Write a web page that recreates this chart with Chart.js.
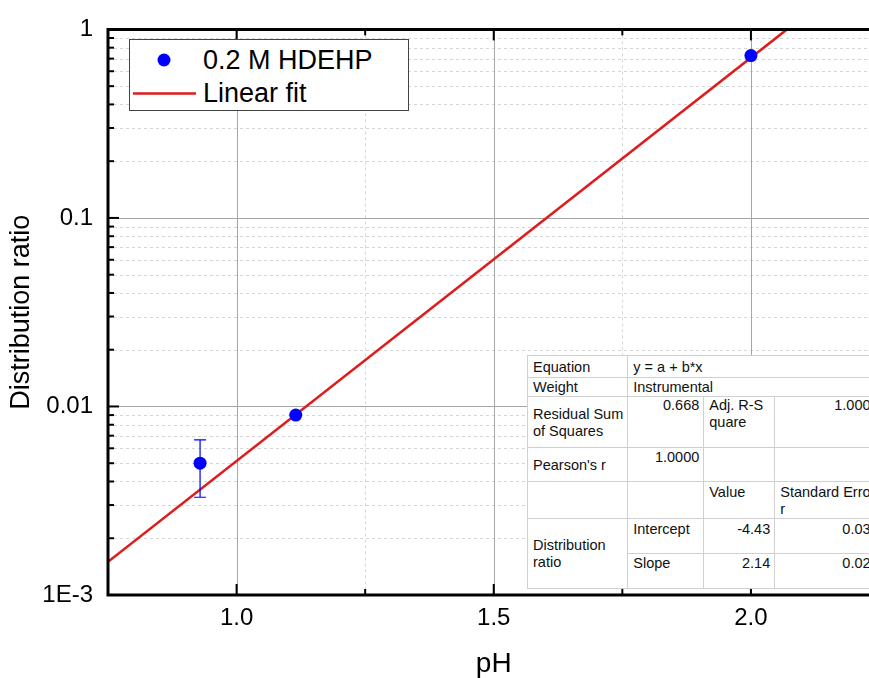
<!DOCTYPE html>
<html>
<head>
<meta charset="utf-8">
<script src="https://cdn.jsdelivr.net/npm/chart.js@4.4.1/dist/chart.umd.min.js"></script>
<style>
  html, body { margin:0; padding:0; background:#fff; overflow:hidden; width:869px; height:678px; }
  #wrap { position:relative; width:890px; height:682px; font-family:"Liberation Sans", Arial, sans-serif; }
  #c { position:absolute; left:0; top:0; }
  #legend { position:absolute; left:129px; top:39px; width:278px; height:70px; border:1px solid #444; background:#fff; }
  .lrow { position:absolute; left:0; height:32px; width:278px; font-size:27px; line-height:32px; color:#000; }
  .lrow span.t { position:absolute; left:73px; top:0; white-space:nowrap; }
  #tbl { position:absolute; left:527px; top:355px; border-collapse:collapse; table-layout:fixed; background:#fff;
         font-size:14.5px; color:#111; border:1px solid #888; }
  #tbl td { border:1px solid #d0d0d0; padding:1px 4px 0 5px; vertical-align:top; line-height:17px; overflow:hidden; white-space:nowrap; }
  #tbl td.mid { vertical-align:middle; }
  #tbl td.r { text-align:right; }
</style>
</head>
<body>
<div id="wrap">
  <canvas id="c" width="890" height="682"></canvas>
  <div id="legend"></div>
  <table id="tbl">
    <colgroup><col style="width:100px"><col style="width:76px"><col style="width:71px"><col style="width:98px"></colgroup>
    <tr style="height:22px"><td class="mid">Equation</td><td colspan="3" class="mid">y = a + b*x</td></tr>
    <tr style="height:19px"><td class="mid">Weight</td><td colspan="3" class="mid">Instrumental</td></tr>
    <tr style="height:51px"><td class="mid">Residual Sum<br>of Squares</td><td class="r" style="padding-top:0">0.668</td><td style="padding-top:0">Adj. R-S<br>quare</td><td class="r" style="padding-top:0">1.000</td></tr>
    <tr style="height:34px"><td class="mid">Pearson's r</td><td class="r" style="padding-top:1px">1.0000</td><td></td><td></td></tr>
    <tr style="height:36px"><td></td><td></td><td style="padding-top:2px">Value</td><td style="padding-top:2px">Standard Erro<br>r</td></tr>
    <tr style="height:35px"><td class="mid" rowspan="2">Distribution<br>ratio</td><td style="padding-top:2px">Intercept</td><td class="r" style="padding-top:2px">-4.43</td><td class="r" style="padding-top:2px">0.03</td></tr>
    <tr style="height:35px"><td>Slope</td><td class="r">2.14</td><td class="r">0.02</td></tr>
  </table>
</div>
<script>
// ---- data ----
const seriesLabel = '0.2 M HDEHP';
const pH = [0.929, 1.115, 2.0];
const distRatio = [0.0050, 0.0090, 0.726];
const errLow = [0.0033, null, null];
const errHigh = [0.00665, null, null];

const fitLabel = 'Linear fit';
const fitX = [0.75, 2.07];
const fitY = [0.0015, 1.0];

const xTickValues = [1.0, 1.5, 2.0];
const xMinorValues = [1.25, 1.75];
const yTickValues = [0.001, 0.01, 0.1, 1];
const yTickLabels = ['1E-3', '0.01', '0.1', '1'];
const xTitle = 'pH';
const yTitle = 'Distribution ratio';

const FONT = '"Liberation Sans", Arial, sans-serif';
const BLUE = '#0000ff';
const RED = '#e01b1b';

function yMinorValues() {
  const out = [];
  for (let e = -3; e < 0; e++) for (let k = 2; k <= 9; k++) out.push(k * Math.pow(10, e));
  return out;
}

const gridPlugin = {
  id: 'gridAndFrame',
  beforeDatasetsDraw(chart) {
    const {ctx, chartArea: a, scales: {x, y}} = chart;
    ctx.save();
    ctx.beginPath(); ctx.rect(a.left, a.top, a.right - a.left, a.bottom - a.top); ctx.clip();
    ctx.lineWidth = 1;
    ctx.strokeStyle = '#d6d6d6'; ctx.setLineDash([3, 3]);
    yMinorValues().forEach(v => { const py = Math.round(y.getPixelForValue(v)) + 0.5;
      ctx.beginPath(); ctx.moveTo(a.left, py); ctx.lineTo(a.right, py); ctx.stroke(); });
    xMinorValues.forEach(v => { const px = Math.round(x.getPixelForValue(v)) + 0.5;
      ctx.beginPath(); ctx.moveTo(px, a.top); ctx.lineTo(px, a.bottom); ctx.stroke(); });
    ctx.setLineDash([]); ctx.strokeStyle = '#a6a6a6';
    yTickValues.slice(1, -1).forEach(v => { const py = Math.round(y.getPixelForValue(v)) + 0.5;
      ctx.beginPath(); ctx.moveTo(a.left, py); ctx.lineTo(a.right, py); ctx.stroke(); });
    xTickValues.forEach(v => { const px = Math.round(x.getPixelForValue(v)) + 0.5;
      ctx.beginPath(); ctx.moveTo(px, a.top); ctx.lineTo(px, a.bottom); ctx.stroke(); });
    ctx.restore();
  },
  afterDatasetsDraw(chart) {
    const {ctx, chartArea: a, scales: {x, y}} = chart;
    ctx.save();
    const meta = chart.getDatasetMeta(0);
    ctx.strokeStyle = BLUE; ctx.lineWidth = 1.2;
    meta.data.forEach((pt, i) => {
      if (errLow[i] == null) return;
      const px = pt.x, y1 = y.getPixelForValue(errLow[i]), y2 = y.getPixelForValue(errHigh[i]);
      ctx.beginPath();
      ctx.moveTo(px, y1); ctx.lineTo(px, y2);
      ctx.moveTo(px - 6, y1); ctx.lineTo(px + 6, y1);
      ctx.moveTo(px - 6, y2); ctx.lineTo(px + 6, y2);
      ctx.stroke();
    });
    ctx.strokeStyle = '#000'; ctx.lineWidth = 3; ctx.lineCap = 'square';
    ctx.beginPath();
    ctx.moveTo(a.right, a.top); ctx.lineTo(a.left, a.top); ctx.lineTo(a.left, a.bottom); ctx.lineTo(a.right, a.bottom);
    ctx.stroke();
    ctx.lineCap = 'butt'; ctx.lineWidth = 2;
    const tick = (x1, y1, x2, y2) => { ctx.beginPath(); ctx.moveTo(x1, y1); ctx.lineTo(x2, y2); ctx.stroke(); };
    yTickValues.slice(1, -1).forEach(v => { const py = y.getPixelForValue(v); tick(a.left, py, a.left + 11, py); });
    yMinorValues().forEach(v => { const py = y.getPixelForValue(v); tick(a.left, py, a.left + 6, py); });
    xTickValues.forEach(v => { const px = x.getPixelForValue(v);
      tick(px, a.bottom, px, a.bottom - 11); tick(px, a.top, px, a.top + 11); });
    xMinorValues.forEach(v => { const px = x.getPixelForValue(v);
      tick(px, a.bottom, px, a.bottom - 6); tick(px, a.top, px, a.top + 6); });
    ctx.restore();
  }
};

const chart = new Chart(document.getElementById('c'), {
  type: 'scatter',
  data: {
    datasets: [
      { label: seriesLabel, data: pH.map((v, i) => ({x: v, y: distRatio[i]})),
        backgroundColor: BLUE, borderColor: BLUE, pointRadius: 6.5, pointBorderWidth: 0, showLine: false, order: 1 },
      { label: fitLabel, type: 'line', data: fitX.map((v, i) => ({x: v, y: fitY[i]})),
        borderColor: RED, borderWidth: 2.5, pointRadius: 0, fill: false, showLine: true, order: 2 }
    ]
  },
  options: {
    responsive: false, animation: false,
    layout: { padding: { top: 27, right: 10.5, left: 0, bottom: 0 } },
    plugins: { legend: { display: false }, tooltip: { enabled: false } },
    scales: {
      x: {
        type: 'linear', min: 0.75, max: 2.25,
        afterBuildTicks: s => { s.ticks = xTickValues.map(v => ({value: v})); },
        afterFit: s => { s.height = 87; },
        ticks: { callback: v => Number(v).toFixed(1), color: '#000', font: {family: FONT, size: 24}, padding: 9, maxRotation: 0, autoSkip: false },
        grid: { display: false, drawTicks: false },
        border: { display: false },
        title: { display: true, text: xTitle, color: '#000', font: {family: FONT, size: 28}, padding: {top: 0, bottom: 1} }
      },
      y: {
        type: 'logarithmic', min: 0.001, max: 1,
        afterBuildTicks: s => { s.ticks = yTickValues.map(v => ({value: v, major: true})); },
        afterFit: s => { s.width = 108; },
        ticks: { callback: v => yTickLabels[yTickValues.findIndex(t => Math.abs(t - v) / t < 1e-6)] ?? '', color: '#000', font: {family: FONT, size: 24}, padding: 15, autoSkip: false },
        grid: { display: false, drawTicks: false },
        border: { display: false },
        title: { display: true, text: yTitle, color: '#000', font: {family: FONT, size: 27}, padding: {top: 5, bottom: 0} }
      }
    }
  },
  plugins: [gridPlugin]
});

(function buildLegend() {
  const lg = document.getElementById('legend');
  const ds = chart.data.datasets;
  const r1 = document.createElement('div'); r1.className = 'lrow'; r1.style.top = '4px';
  r1.innerHTML = '<svg width="70" height="32" style="position:absolute;left:0;top:0"><circle cx="34" cy="16" r="6.5" fill="' + ds[0].backgroundColor + '"/></svg><span class="t"></span>';
  r1.querySelector('.t').textContent = ds[0].label;
  const r2 = document.createElement('div'); r2.className = 'lrow'; r2.style.top = '37px';
  r2.innerHTML = '<svg width="70" height="32" style="position:absolute;left:0;top:0"><line x1="3" y1="16.5" x2="66" y2="16.5" stroke="' + ds[1].borderColor + '" stroke-width="2.5"/></svg><span class="t"></span>';
  r2.querySelector('.t').textContent = ds[1].label;
  lg.appendChild(r1); lg.appendChild(r2);
})();
</script>
</body>
</html>
